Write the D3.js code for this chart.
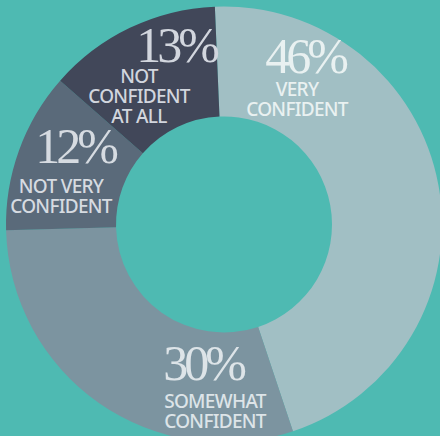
<!DOCTYPE html>
<html>
<head>
<meta charset="utf-8">
<style>
  html, body { margin: 0; padding: 0; background: #4ebab2; }
  svg { display: block; }
  .pct { font-family: "Liberation Serif", serif; font-size: 50px; letter-spacing: -4px; }
  .lbl { font-family: "Noto Sans", sans-serif; font-size: 19px; font-weight: 500; letter-spacing: -0.7px; }
</style>
</head>
<body>
<svg width="440" height="436"></svg>
<script src="https://d3js.org/d3.v7.min.js"></script>
<script>
// data
const categories = ["VERY CONFIDENT", "SOMEWHAT CONFIDENT", "NOT VERY CONFIDENT", "NOT CONFIDENT AT ALL"];
const values = [46, 30, 12, 13];
const labelLines = [["VERY", "CONFIDENT"], ["SOMEWHAT", "CONFIDENT"], ["NOT VERY", "CONFIDENT"], ["NOT", "CONFIDENT", "AT ALL"]];
const colors = ["#a1bfc4", "#7c94a0", "#5a6a7a", "#414759"];
const textColors = ["#e9f1f1", "#dde4e8", "#d6dbe1", "#d2d6de"];

// hand placed label spots (pct centre/baseline, label centre/first baseline)
const pctPos = [[305, 73], [203, 380], [75, 163], [176, 62]];
const lblPos = [[297, 96], [215, 408], [61, 193], [139, 83]];

const width = 440, height = 436;
const cx = 224, cy = 224.5;
const outerR = 218, innerR = 108;

const svg = d3.select("svg");

const pie = d3.pie()
  .sort(null)
  .startAngle(-2.4 * Math.PI / 180)
  .endAngle(-2.4 * Math.PI / 180 + 2 * Math.PI)
  .value(d => d);

const arc = d3.arc().innerRadius(innerR).outerRadius(outerR);

const g = svg.append("g").attr("transform", `translate(${cx},${cy})`);

g.selectAll("path")
  .data(pie(values))
  .join("path")
  .attr("d", arc)
  .attr("fill", (d, i) => colors[i]);

const labels = svg.append("g");

values.forEach((v, i) => {
  labels.append("text")
    .attr("class", "pct")
    .attr("x", pctPos[i][0])
    .attr("y", pctPos[i][1])
    .attr("text-anchor", "middle")
    .attr("fill", textColors[i])
    .text(v + "%");

  labels.append("text")
    .attr("class", "lbl")
    .attr("text-anchor", "middle")
    .attr("fill", textColors[i])
    .selectAll("tspan")
    .data(labelLines[i])
    .join("tspan")
    .attr("x", lblPos[i][0])
    .attr("y", (d, j) => lblPos[i][1] + j * 20)
    .text(d => d);
});
</script>
</body>
</html>
